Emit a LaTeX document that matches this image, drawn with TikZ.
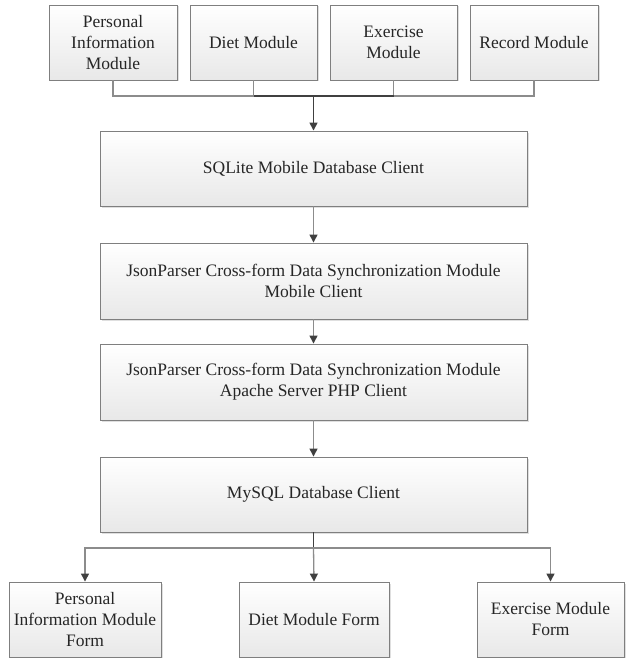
\documentclass[tikz,border=0pt]{standalone}
\usepackage{fontspec}
\setmainfont{Liberation Serif}
\usetikzlibrary{positioning,arrows.meta,shadows}
\definecolor{boxline}{HTML}{7F7F7F}
\definecolor{boxfill}{HTML}{E8E8E8}
\definecolor{linegray}{HTML}{8C8C8C}
\definecolor{linedark}{HTML}{404040}

\begin{document}
\begin{tikzpicture}[x=1pt, y=-1pt, >={Triangle[width=8pt,length=8pt,color=linedark]},
    box/.style={draw=boxline, line width=0.9pt, top color=white, bottom color=boxfill,
      drop shadow={shadow xshift=1.5pt, shadow yshift=-1.5pt, opacity=0.25},
      align=center, inner sep=0pt, text=black!85, font=\fontsize{17.5}{21}\selectfont},
    link/.style={draw=linegray, line width=1.3pt},
    dark/.style={draw=linedark, line width=1.6pt}]
  \useasboundingbox (0,0) rectangle (625,658);
  % modules on the mobile side
  \node[box, minimum width=128pt, minimum height=75pt] (pim) at (113,42.5) {Personal\\Information\\Module};
  \node[box, minimum width=127pt, minimum height=75pt] (diet) at (253.5,42.5) {Diet Module};
  \node[box, minimum width=127pt, minimum height=75pt] (exer) at (393.5,42.5) {Exercise\\Module};
  \node[box, minimum width=128pt, minimum height=75pt] (rec) at (534,42.5) {Record Module};
  % middle chain
  \node[box, minimum width=427pt, minimum height=75pt] (sqlite) at (313.5,168.5) {SQLite Mobile Database Client};
  \node[box, minimum width=427pt, minimum height=76pt] (syncm) at (313.5,281) {JsonParser Cross-form Data Synchronization Module\\Mobile Client};
  \node[box, minimum width=427pt, minimum height=76pt] (syncs) at (313.5,382) {JsonParser Cross-form Data Synchronization Module\\Apache Server PHP Client};
  \node[box, minimum width=427pt, minimum height=75pt] (mysql) at (313.5,494.5) {MySQL Database Client};
  % forms on the server side
  \node[box, minimum width=152pt, minimum height=75pt] (pimf) at (85,619.5) {Personal\\Information Module\\Form};
  \node[box, minimum width=150pt, minimum height=75pt] (dietf) at (314,619.5) {Diet Module Form};
  \node[box, minimum width=147pt, minimum height=75pt] (exerf) at (550.5,619.5) {Exercise Module\\Form};

  \coordinate (tbus) at (313.5,96);
  \coordinate (bbus) at (313.5,548);
  \draw[link] (pim.south) |- (tbus) -| (rec.south);
  \draw[link] (diet.south) -- (diet.south |- tbus);
  \draw[link] (exer.south) -- (exer.south |- tbus);
  \draw[dark] (diet.south |- tbus) -- (exer.south |- tbus);
  \draw[dark, ->] (tbus) -- (sqlite.north);
  \draw[link, ->] (sqlite) -- (syncm);
  \draw[link, ->] (syncm) -- (syncs);
  \draw[link, ->] (syncs) -- (mysql);
  \draw[dark] (mysql.south) -- (bbus);
  \draw[link, ->] (bbus) -| (pimf.north);
  \draw[link, ->] (bbus) -- (dietf.north);
  \draw[link, ->] (bbus) -| (exerf.north);
\end{tikzpicture}
\end{document}
